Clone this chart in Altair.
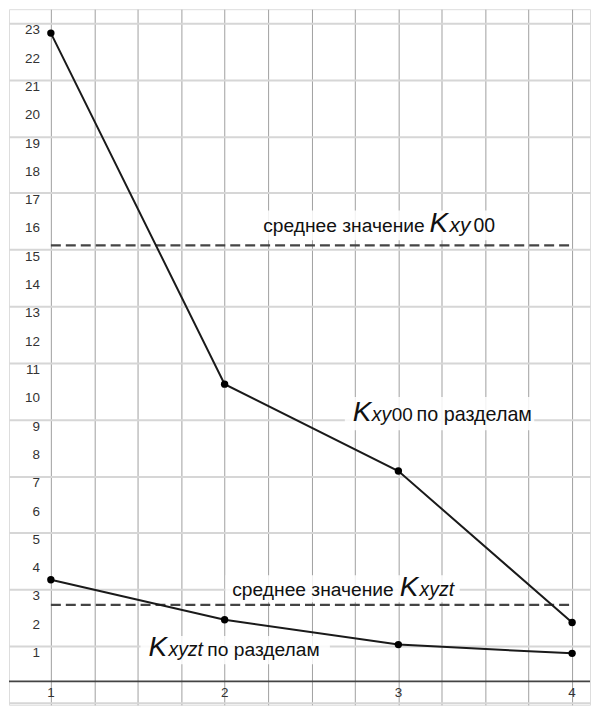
import altair as alt
import pandas as pd
import numpy as np

# data
sections = [1, 2, 3, 4]
kxy00 = [22.9, 10.5, 7.43, 2.08]
kxyzt = [3.59, 2.18, 1.30, 0.99]
mean_kxy00 = 15.4
mean_kxyzt = 2.7
y_tick_labels = list(range(1, 24))
x_tick_labels = [1, 2, 3, 4]

XMIN, XMAX = 0.759, 4.103
YMIN, YMAX = -0.827, 23.745
W, H = 583, 698
FONT = "Liberation Sans"

xs = alt.Scale(domain=[XMIN, XMAX], nice=False, zero=False, padding=0)
ys = alt.Scale(domain=[YMIN, YMAX], nice=False, zero=False, padding=0)

xgrid_vals = [round(v, 2) for v in np.arange(0.75, 4.11, 0.25)]
ygrid_vals = [round(v, 2) for v in np.arange(-0.75, 23.76, 0.25)]

lines = pd.DataFrame({
    "x": sections * 2,
    "y": kxy00 + kxyzt,
    "s": ["Kxy00"] * 4 + ["Kxyzt"] * 4,
})
means = pd.DataFrame({"x": [1, 1], "x2": [4, 4], "y": [mean_kxy00, mean_kxyzt]})
yt = pd.DataFrame({"y": y_tick_labels})
xt = pd.DataFrame({"x": x_tick_labels})

# annotations: label boxes (data coords) and text segments
boxes = pd.DataFrame({
    "x": [2.107, 2.692, 2.005, 1.516],
    "x2": [3.696, 3.782, 3.353, 2.606],
    "y": [16.63, 10.05, 3.75, 1.60],
    "y2": [15.58, 8.87, 2.80, 0.61],
})
segs = pd.DataFrame([
    # x, y, dx, text, size, style
    (2.222, 15.86, 0, "среднее значение", 19.3, "normal"),
    (2.222, 15.86, 167, "K", 28, "italic"),
    (2.222, 15.86, 187, "xy", 21, "italic"),
    (2.222, 15.86, 211, "00", 19.5, "normal"),
    (2.738, 9.2, 0, "K", 28, "italic"),
    (2.738, 9.2, 19, "xy", 19.5, "italic"),
    (2.738, 9.2, 39, "00", 19, "normal"),
    (2.738, 9.2, 64, "по разделам", 19.8, "normal"),
    (2.044, 3.01, 0, "среднее значение", 19.3, "normal"),
    (2.044, 3.01, 168, "K", 28, "italic"),
    (2.044, 3.01, 188, "xyzt", 19.5, "italic"),
    (1.562, 0.90, 0, "K", 28, "italic"),
    (1.562, 0.90, 20, "xyzt", 19.5, "italic"),
    (1.562, 0.90, 59, "по разделам", 19.3, "normal"),
], columns=["x", "y", "dx", "t", "size", "style"])

grid_base = alt.Chart(pd.DataFrame({"x": [1.0], "y": [1.0]})).mark_point(opacity=0).encode(
    x=alt.X("x:Q", scale=xs, axis=alt.Axis(
        values=xgrid_vals, grid=True, gridColor="#a0a0a0", gridWidth=1,
        labels=False, ticks=False, domain=False, title=None)),
    y=alt.Y("y:Q", scale=ys, axis=alt.Axis(
        values=ygrid_vals, grid=True,
        gridColor={"condition": {"test": "datum.value % 1 === 0", "value": "#bdbdbd"}, "value": "#d6d6d6"},
        gridWidth=2,
        labels=False, ticks=False, domain=False, title=None)),
)

axis_line = alt.Chart(pd.DataFrame({"y": [0]})).mark_rule(color="#444444", strokeWidth=1.6).encode(
    y=alt.Y("y:Q", scale=ys))

mean_lines = alt.Chart(means).mark_rule(color="#444444", strokeWidth=2.2, strokeDash=[10, 5]).encode(
    x=alt.X("x:Q", scale=xs), x2="x2:Q", y=alt.Y("y:Q", scale=ys))

series = alt.Chart(lines).mark_line(color="#1a1a1a", strokeWidth=2).encode(
    x=alt.X("x:Q", scale=xs), y=alt.Y("y:Q", scale=ys), detail="s:N")
pts = alt.Chart(lines).mark_circle(color="#000000", size=55, opacity=1).encode(
    x=alt.X("x:Q", scale=xs), y=alt.Y("y:Q", scale=ys))

box_layer = alt.Chart(boxes).mark_rect(color="white", opacity=0.85).encode(
    x=alt.X("x:Q", scale=xs), x2="x2:Q", y=alt.Y("y:Q", scale=ys), y2="y2:Q")

seg_layers = []
for _, r in segs.iterrows():
    seg_layers.append(
        alt.Chart(pd.DataFrame([r])).mark_text(
            align="left", baseline="alphabetic", dx=float(r["dx"]), font=FONT,
            fontSize=float(r["size"]), fontStyle=r["style"], color="#111111"
        ).encode(x=alt.X("x:Q", scale=xs), y=alt.Y("y:Q", scale=ys), text="t:N")
    )

ylab = alt.Chart(yt).mark_text(align="right", baseline="middle", font=FONT, fontSize=13.5,
                              color="#333333").encode(
    x=alt.value(31), y=alt.Y("y:Q", scale=ys), text="y:Q")
xlab = alt.Chart(xt).mark_text(align="center", baseline="middle", font=FONT, fontSize=13.5,
                              color="#333333", dy=12).encode(
    x=alt.X("x:Q", scale=xs), y=alt.datum(0, scale=ys), text="x:Q")

chart = alt.layer(grid_base, box_layer, axis_line, mean_lines, series, pts, *seg_layers, ylab, xlab).properties(
    width=W, height=H, padding=0
).configure_view(stroke=None).configure(background="white")

chart.save("out.html", embed_options={"renderer": "svg", "actions": False})
